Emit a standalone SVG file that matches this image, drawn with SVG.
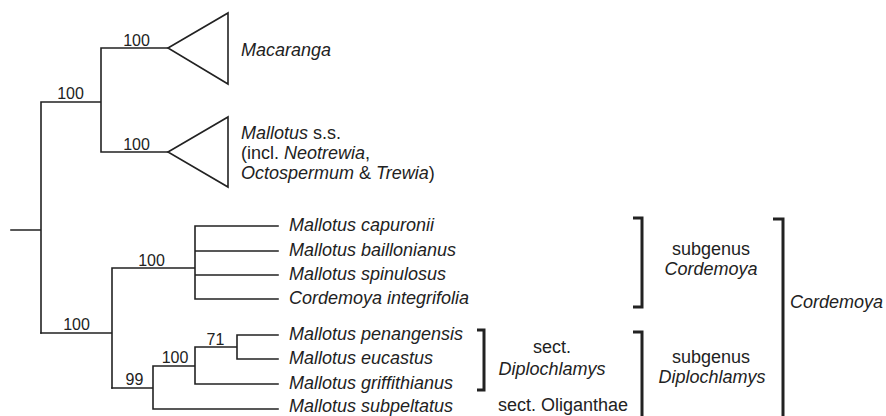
<svg xmlns="http://www.w3.org/2000/svg" width="886" height="416" viewBox="0 0 886 416">
<style>
.br{fill:none;stroke:#222;stroke-width:1.6;stroke-linecap:square}
.bk{fill:none;stroke:#222;stroke-width:3}
text{font-family:"Liberation Sans",Arial,sans-serif;fill:#222}
.t{font-size:18px}
.i{font-style:italic}
.s{font-size:16px;text-anchor:middle}
.c{text-anchor:middle}
</style>
<rect width="886" height="416" fill="#fff"/>
<g id="connectors">
<path class="br" d="M11,230H41M41,102V333M41,102H101M101,48V152M101,48H168M101,152H168"/>
<path class="br" d="M41,333H112M112,268V388M112,268H195M195,226V299M195,226H278M195,251H278M195,275H278M195,299H278"/>
<path class="br" d="M112,388H153M153,366V409M153,409H278M153,366H195M195,347V384M195,384H278M195,347H237M237,335V359M237,335H278M237,359H278"/>
</g>
<g id="supports">
<text class="s" x="70.5" y="99">100</text>
<text class="s" x="136.5" y="46">100</text>
<text class="s" x="136.5" y="150">100</text>
<text class="s" x="76.5" y="330">100</text>
<text class="s" x="151.5" y="266">100</text>
<text class="s" x="134.5" y="385">99</text>
<text class="s" x="175" y="363">100</text>
<text class="s" x="215.5" y="345">71</text>
</g>
<g id="macaranga">
<polygon class="br" points="168,48 228,13 228,84"/>
<text class="t i" x="241" y="56">Macaranga</text>
</g>
<g id="mallotus-ss">
<polygon class="br" points="168,152 228,117 228,187"/>
<text class="t" x="241" y="139"><tspan class="i">Mallotus</tspan> s.s.</text>
<text class="t" x="241" y="159">(incl. <tspan class="i">Neotrewia</tspan>,</text>
<text class="t" x="241" y="179"><tspan class="i">Octospermum</tspan> &amp; <tspan class="i">Trewia</tspan>)</text>
</g>
<g id="leaves">
<text class="t i" x="289" y="231">Mallotus capuronii</text>
<text class="t i" x="289" y="256">Mallotus baillonianus</text>
<text class="t i" x="289" y="280">Mallotus spinulosus</text>
<text class="t i" x="289" y="304">Cordemoya integrifolia</text>
<text class="t i" x="289" y="340">Mallotus penangensis</text>
<text class="t i" x="289" y="364">Mallotus eucastus</text>
<text class="t i" x="289" y="389">Mallotus griffithianus</text>
<text class="t i" x="289" y="412">Mallotus subpeltatus</text>
</g>
<g id="sect-diplochlamys">
<path class="bk" d="M477,330H484V390H477"/>
<text class="t c" x="552" y="353">sect.</text>
<text class="t c i" x="552" y="375">Diplochlamys</text>
</g>
<g id="sect-oliganthae">
<text class="t c" x="563" y="411">sect. Oliganthae</text>
</g>
<g id="subgenus-cordemoya">
<path class="bk" d="M633,218H642V307H633"/>
<text class="t c" x="711" y="255">subgenus</text>
<text class="t c i" x="711" y="275">Cordemoya</text>
</g>
<g id="subgenus-diplochlamys">
<path class="bk" d="M633,332H642V420"/>
<text class="t c" x="711" y="363">subgenus</text>
<text class="t c i" x="712" y="383">Diplochlamys</text>
</g>
<g id="cordemoya">
<path class="bk" d="M773,219H783V420"/>
<text class="t i" x="790" y="308">Cordemoya</text>
</g>
</svg>
